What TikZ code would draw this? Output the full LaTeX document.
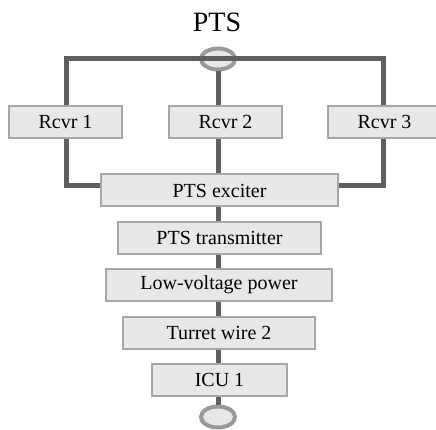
\documentclass[tikz,border=0pt]{standalone}
\usepackage{fontspec}
\setmainfont{Liberation Serif}
\usetikzlibrary{positioning,shapes.geometric}
\definecolor{wire}{HTML}{5F5F5F}
\definecolor{boxfill}{HTML}{E8E8E8}
\definecolor{boxline}{HTML}{A6A6A6}
\definecolor{plugline}{HTML}{999999}
\tikzset{
  unit/.style={draw=boxline, fill=boxfill, line width=2pt, minimum height=32pt,
    inner sep=0pt, font=\fontsize{20}{24}\selectfont},
  plug/.style={ellipse, draw=plugline, fill=boxfill, line width=4pt,
    minimum width=34pt, minimum height=21pt, inner sep=0pt},
  rail/.style={draw=wire, line width=5pt},
}

\begin{document}
\begin{tikzpicture}[x=1pt, y=-1pt]
\useasboundingbox (0,0) rectangle (436,430);
\node[font=\fontsize{28}{32}\selectfont] (title) at (217,22) {PTS};
\node[plug] (top) at (218,59) {};
\draw[rail] (66,139) |- (top.center) -| (383,139);
\node[unit, minimum width=113pt] (rcvr1) at (65.5,122) {Rcvr 1};
\node[unit, minimum width=113pt] (rcvr2) at (225.5,122) {Rcvr 2};
\node[unit, minimum width=113pt] (rcvr3) at (384.5,122) {Rcvr 3};
\draw[rail] (top.south) -- (top.south |- rcvr2.north);
\node[unit, minimum width=237pt] (exciter) at (219.5,190.5) {PTS exciter};
\node[unit, minimum width=203pt] (transmitter) at (219.5,238) {PTS transmitter};
\node[unit, minimum width=226pt] (power) at (219,285) {Low-voltage power};
\node[unit, minimum width=192pt] (turret) at (219,333) {Turret wire 2};
\node[unit, minimum width=135pt] (icu) at (219.5,380) {ICU 1};
\node[plug] (bottom) at (218,417) {};
\draw[rail] (rcvr2.south -| top.south) -- (exciter.north -| top.south);
\draw[rail] ([xshift=0.5pt]rcvr1.south) |- ([yshift=5pt]exciter.west);
\draw[rail] ([xshift=-1.5pt]rcvr3.south) |- ([yshift=5pt]exciter.east);
\draw[rail] (exciter.south -| top.south) -- (transmitter.north -| top.south);
\draw[rail] (transmitter.south -| top.south) -- (power.north -| top.south);
\draw[rail] (power.south -| top.south) -- (turret.north -| top.south);
\draw[rail] (turret.south -| top.south) -- (icu.north -| top.south);
\draw[rail] (icu.south -| top.south) -- (bottom.north);
\end{tikzpicture}
\end{document}
